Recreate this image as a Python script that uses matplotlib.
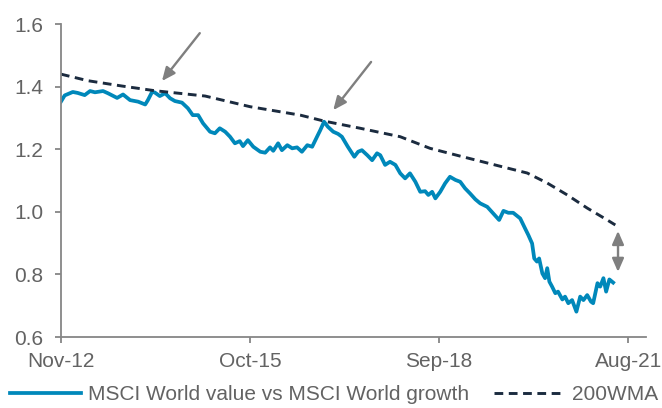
import matplotlib
matplotlib.use("Agg")
import matplotlib.pyplot as plt
import numpy as np

# x = months since Nov-12
value_months = [
    0.0, 0.7, 2.2, 3.1, 4.4, 5.4, 6.3, 7.8, 8.7, 10.4, 11.5, 12.8, 14.3, 15.6, 16.1,
    16.9, 17.4, 18.3, 19.3, 20.2, 21.1, 22.4, 23.5, 24.4, 25.4, 26.3, 27.6, 28.5,
    29.4, 30.4, 31.3, 32.2, 33.1, 33.7, 34.6, 35.6, 36.9, 37.8, 38.7, 39.3, 40.2,
    40.9, 41.9, 42.8, 43.7, 44.6, 45.6, 46.5, 47.4, 48.0, 48.7, 49.4, 50.4, 51.3,
    52.0, 53.1, 54.3, 55.0, 55.7, 56.7, 57.6, 58.5, 59.1, 60.0, 60.9, 61.9, 62.8,
    63.7, 64.6, 65.6, 66.5, 67.4, 68.0, 68.7, 69.3, 70.2, 71.1, 72.0, 73.0, 73.9,
    74.8, 75.7, 76.7, 77.6, 78.9, 80.0, 81.1, 81.9, 82.8, 83.7, 85.0, 85.9, 86.5,
    87.2, 87.6, 88.1, 88.5, 89.1, 89.6, 90.0, 90.4, 90.9, 91.5, 92.0, 92.8, 93.3,
    93.9, 94.6, 95.4, 96.1, 96.7, 97.4, 98.1, 98.5, 99.3, 99.8, 100.4, 100.9,
    101.5, 102.2,
]
value_vs_growth = [
    1.352, 1.372, 1.383, 1.380, 1.373, 1.386, 1.382, 1.386, 1.379, 1.364, 1.375,
    1.357, 1.352, 1.343, 1.357, 1.384, 1.381, 1.370, 1.379, 1.363, 1.354, 1.349,
    1.331, 1.309, 1.309, 1.283, 1.256, 1.251, 1.267, 1.256, 1.240, 1.219, 1.226,
    1.210, 1.229, 1.208, 1.192, 1.189, 1.206, 1.195, 1.219, 1.197, 1.213, 1.203,
    1.206, 1.192, 1.213, 1.208, 1.240, 1.261, 1.288, 1.272, 1.256, 1.249, 1.240,
    1.208, 1.176, 1.192, 1.197, 1.181, 1.165, 1.187, 1.181, 1.150, 1.160, 1.150,
    1.123, 1.107, 1.123, 1.096, 1.064, 1.066, 1.054, 1.064, 1.043, 1.064, 1.091,
    1.112, 1.102, 1.096, 1.075, 1.059, 1.040, 1.027, 1.016, 0.995, 0.974, 1.003,
    0.997, 0.997, 0.979, 0.947, 0.926, 0.899, 0.851, 0.841, 0.851, 0.803, 0.788,
    0.820, 0.777, 0.761, 0.740, 0.745, 0.720, 0.729, 0.708, 0.718, 0.681, 0.729,
    0.718, 0.734, 0.713, 0.708, 0.772, 0.761, 0.788, 0.745, 0.784, 0.774,
]

wma_months = [0.0, 5.0, 11.3, 17.4, 26.7, 35.0, 44.3, 48.7, 55.4, 62.8, 68.3,
              73.9, 81.9, 86.3, 90.0, 93.7, 97.4, 101.1, 102.6]
wma_200 = [1.440, 1.419, 1.402, 1.387, 1.370, 1.336, 1.309, 1.290, 1.267, 1.240,
           1.203, 1.178, 1.143, 1.124, 1.092, 1.054, 1.012, 0.974, 0.958]

tick_months = [0, 35, 70, 105]
tick_labels = ["Nov-12", "Oct-15", "Sep-18", "Aug-21"]

plt.rcParams["font.family"] = ["Liberation Sans", "DejaVu Sans"]
gray = "#636363"
axis_gray = "#868686"
fsize = 15

fig = plt.figure(figsize=(6.62, 4.08), dpi=100)
ax = fig.add_axes([0.092, 0.174, 0.884, 0.767])

l1, = ax.plot(value_months, value_vs_growth, color="#0088ba", lw=2.7,
              solid_joinstyle="round", label="MSCI World value vs MSCI World growth")
l2, = ax.plot(wma_months, wma_200, color="#1b2b3f", lw=2.1, dashes=(3.0, 1.9),
              label="200WMA")

arrow_kw = dict(arrowstyle="-|>,head_length=0.8,head_width=0.35", color="#7f7f7f", lw=1.7,
                shrinkA=0, shrinkB=0)
ax.annotate("", xy=(18.7, 1.418), xytext=(25.7, 1.571), arrowprops=arrow_kw)
ax.annotate("", xy=(50.4, 1.325), xytext=(57.4, 1.479), arrowprops=arrow_kw)
ax.annotate("", xy=(103.1, 0.808), xytext=(103.1, 0.939),
            arrowprops=dict(arrowstyle="<|-|>,head_length=0.8,head_width=0.35",
                            color="#7f7f7f", lw=1.7, shrinkA=0, shrinkB=0))

ax.set_xlim(0, 108.3)
ax.set_ylim(0.6, 1.6)
ax.set_yticks([0.6, 0.8, 1.0, 1.2, 1.4, 1.6])
ax.set_yticklabels(["0.6", "0.8", "1.0", "1.2", "1.4", "1.6"])
ax.set_xticks(tick_months)
ax.set_xticklabels(tick_labels)

for side in ["top", "right"]:
    ax.spines[side].set_visible(False)
for side in ["left", "bottom"]:
    ax.spines[side].set_color(axis_gray)
    ax.spines[side].set_linewidth(1.3)
ax.tick_params(axis="both", colors=axis_gray, labelcolor=gray, labelsize=fsize,
               length=4.5, width=1.3, direction="out")
ax.tick_params(axis="y", pad=8.2)
ax.tick_params(axis="x", pad=6)

fig.legend(handles=[l1, l2], loc="center", bbox_to_anchor=(0.505, 0.032), ncol=2,
           frameon=False, fontsize=fsize, labelcolor=gray, handlelength=3.4,
           handletextpad=0.34, columnspacing=1.2, borderaxespad=0, borderpad=0)

fig.savefig("out.png", dpi=100)
